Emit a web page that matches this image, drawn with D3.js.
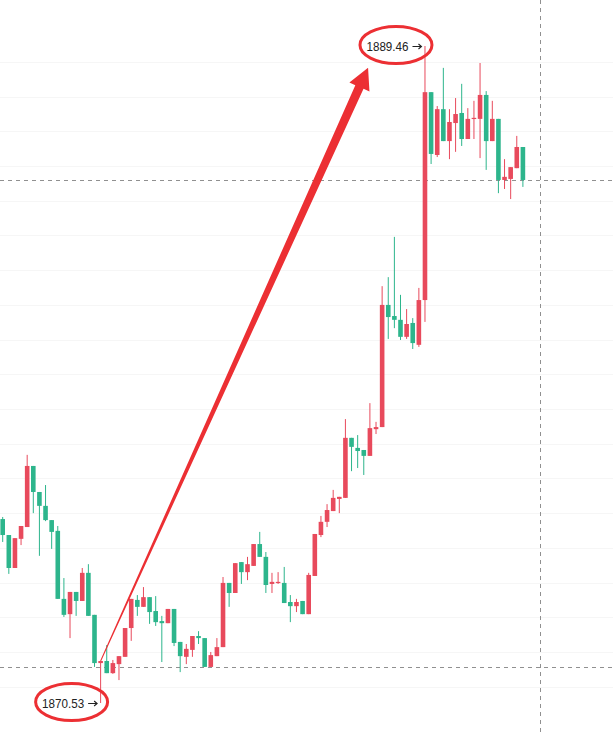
<!DOCTYPE html>
<html>
<head>
<meta charset="utf-8">
<script src="https://cdn.jsdelivr.net/npm/d3@7"></script>
<style>
  body { margin: 0; background: #fff; }
  svg { display: block; }
</style>
</head>
<body>
<svg id="chart" width="613" height="732"></svg>
<script>
// candle data, one entry per bar (oldest first)
let opens = [1875.83,1875.37,1874.42,1875.26,1875.60,1877.36,1876.61,1876.21,1875.80,1875.49,
  1873.53,1873.09,1873.73,1873.47,1874.28,1873.07,1871.68,1871.74,1871.39,1871.65,
  1871.86,1872.69,1873.50,1873.30,1873.58,1873.18,1872.89,1872.83,1873.24,1872.29,
  1871.86,1872.06,1872.46,1872.40,1871.57,1871.88,1872.14,1873.99,1873.70,1874.59,
  1874.30,1874.48,1875.11,1874.74,1873.96,1873.99,1873.99,1873.44,1873.32,1873.47,
  1873.09,1874.19,1875.37,1875.75,1876.06,1876.41,1876.44,1878.17,1877.88,1877.82,
  1877.65,1878.42,1878.48,1882.00,1881.68,1881.57,1881.08,1881.48,1880.85,1882.14,
  1888.13,1886.32,1887.64,1886.72,1887.24,1887.53,1886.78,1887.36,1887.36,1888.05,
  1886.72,1887.36,1885.60,1885.63,1885.94,1886.55];
let highs = [1875.89,1875.37,1875.28,1875.63,1877.68,1877.36,1876.61,1876.81,1875.80,1875.63,
  1874.13,1873.73,1873.73,1874.42,1874.53,1873.07,1871.74,1872.20,1871.77,1871.88,
  1872.69,1873.53,1873.64,1873.87,1873.58,1873.61,1873.04,1873.24,1873.24,1872.29,
  1872.23,1872.46,1872.60,1872.40,1872.00,1872.40,1874.16,1873.99,1874.56,1874.59,
  1874.74,1875.11,1875.46,1874.88,1874.28,1874.30,1874.45,1873.64,1873.53,1873.47,
  1874.28,1875.40,1875.92,1876.26,1876.67,1876.47,1878.71,1878.17,1878.25,1877.82,
  1879.17,1878.63,1882.54,1882.80,1883.96,1882.29,1881.88,1881.62,1882.49,1889.46,
  1888.13,1887.73,1888.83,1887.64,1887.96,1888.37,1887.67,1887.88,1888.97,1888.16,
  1887.88,1887.36,1886.20,1885.97,1886.87,1886.55];
let lows = [1875.17,1874.25,1874.42,1875.08,1875.60,1876.00,1874.77,1875.77,1874.97,1873.53,
  1873.01,1872.40,1873.04,1873.47,1873.04,1871.57,1870.53,1871.39,1871.37,1871.19,
  1871.86,1872.32,1873.04,1873.30,1872.81,1872.75,1871.71,1872.83,1872.17,1871.42,
  1871.65,1871.86,1872.23,1871.57,1871.57,1871.88,1872.14,1873.30,1873.70,1873.96,
  1874.07,1874.48,1874.74,1873.70,1873.70,1873.96,1873.41,1872.86,1873.15,1873.09,
  1873.09,1874.19,1875.31,1875.60,1876.06,1876.00,1876.44,1877.21,1877.30,1877.10,
  1877.65,1878.28,1878.48,1881.02,1881.33,1880.99,1881.02,1880.73,1880.79,1881.51,
  1886.06,1886.26,1886.72,1886.20,1886.41,1886.58,1886.78,1886.78,1886.23,1885.89,
  1886.72,1885.22,1885.34,1885.05,1885.94,1885.40];
let closes = [1875.37,1874.42,1875.28,1875.63,1877.36,1876.61,1876.21,1875.80,1875.46,1873.53,
  1873.07,1873.73,1873.47,1874.28,1873.04,1871.68,1871.74,1871.39,1871.68,1871.88,
  1872.69,1873.53,1873.30,1873.58,1873.15,1872.86,1872.83,1873.24,1872.26,1871.88,
  1872.09,1872.46,1872.40,1871.57,1871.91,1872.14,1873.99,1873.70,1874.56,1874.30,
  1874.53,1875.11,1874.74,1873.93,1874.02,1874.02,1873.41,1873.32,1873.44,1873.09,
  1874.22,1875.40,1875.75,1876.09,1876.44,1876.47,1878.17,1877.91,1877.79,1877.65,
  1878.45,1878.48,1882.00,1881.65,1881.57,1881.08,1881.45,1880.90,1882.14,1888.13,
  1886.35,1887.64,1886.72,1887.27,1887.50,1886.78,1887.36,1887.39,1888.05,1886.72,
  1887.36,1885.60,1885.69,1885.97,1886.55,1885.60];

// horizontal price grid and the two dashed price lines
let gridPrices = [1871,1872,1873,1874,1875,1876,1877,1878,1879,1880,
  1881,1882,1883,1884,1885,1886,1887,1888,1889];
let dashedPrices = [1871.57, 1885.60];
let cursorIndex = 87.8;

// marked extremes: [bar index, price, label]
let lowMark = [16, 1870.53, "1870.53"];
let highMark = [69, 1889.46, "1889.46"];
// red arrow: from bar 16 top to near the high label
let arrowFrom = [16, 1871.74];
let arrowTo = [59.7, 1888.83];

let upColor = "#e84a5c";
let downColor = "#2db58c";
let markRed = "#ec2f33";

let width = 613, height = 732;
let svg = d3.select("#chart");

let data = opens.map((o, i) => ({ i: i, o: o, h: highs[i], l: lows[i], c: closes[i] }));

// Set up the scales
let x = d3.scaleLinear()
  .domain([0, data.length - 1])
  .range([2.7, 522.9]);
let y = d3.scaleLinear()
  .domain([1870.53, 1889.46])
  .range([703, 46]);

// faint grid
svg.append("g")
  .selectAll("line")
  .data(gridPrices)
  .enter()
  .append("line")
  .attr("x1", 0)
  .attr("x2", width)
  .attr("y1", d => Math.round(y(d)) + 0.5)
  .attr("y2", d => Math.round(y(d)) + 0.5)
  .attr("stroke", "#f6f6f6");

// dashed lines
svg.append("g")
  .selectAll("line")
  .data(dashedPrices)
  .enter()
  .append("line")
  .attr("x1", 0)
  .attr("x2", width)
  .attr("y1", d => Math.round(y(d)) + 0.5)
  .attr("y2", d => Math.round(y(d)) + 0.5)
  .attr("stroke", "#909090")
  .attr("stroke-dasharray", "4,4");

svg.append("line")
  .attr("x1", Math.round(x(cursorIndex)) + 0.5)
  .attr("x2", Math.round(x(cursorIndex)) + 0.5)
  .attr("y1", 0)
  .attr("y2", height)
  .attr("stroke", "#909090")
  .attr("stroke-dasharray", "4,4");

// candles
let bodyW = 4.6;
let candles = svg.append("g")
  .selectAll("g")
  .data(data)
  .enter()
  .append("g")
  .attr("fill", d => d.c >= d.o ? upColor : downColor)
  .attr("stroke", d => d.c >= d.o ? upColor : downColor);

candles.append("line")
  .attr("x1", d => x(d.i))
  .attr("x2", d => x(d.i))
  .attr("y1", d => y(d.h))
  .attr("y2", d => y(d.l))
  .attr("stroke-width", 1);

candles.append("rect")
  .attr("x", d => x(d.i) - bodyW / 2)
  .attr("width", bodyW)
  .attr("y", d => y(Math.max(d.o, d.c)))
  .attr("height", d => Math.max(1.2, Math.abs(y(d.o) - y(d.c))))
  .attr("stroke", "none");

// tapered red arrow
let ax0 = x(arrowFrom[0]), ay0 = y(arrowFrom[1]);
let ax1 = x(arrowTo[0]), ay1 = y(arrowTo[1]);
let len = Math.hypot(ax1 - ax0, ay1 - ay0);
let ux = (ax1 - ax0) / len, uy = (ay1 - ay0) / len;
let px = -uy, py = ux;
let headLen = 21, headHalf = 11, tailHalf = 0.5, neckHalf = 4.5;
let bx = ax1 - ux * headLen, by = ay1 - uy * headLen;
let arrowPts = [
  [ax0 + px * tailHalf, ay0 + py * tailHalf],
  [bx + px * neckHalf, by + py * neckHalf],
  [bx + px * headHalf, by + py * headHalf],
  [ax1, ay1],
  [bx - px * headHalf, by - py * headHalf],
  [bx - px * neckHalf, by - py * neckHalf],
  [ax0 - px * tailHalf, ay0 - py * tailHalf]
];
svg.append("path")
  .attr("d", d3.line()(arrowPts) + "Z")
  .attr("fill", markRed);

// price labels with a small arrow, circled in red
function drawMark(mark) {
  let cx = x(mark[0]);
  let cy = y(mark[1]);
  let g = svg.append("g");
  let arrowEnd = cx - 3.5;
  g.append("text")
    .attr("x", arrowEnd - 13)
    .attr("y", cy + 4.8)
    .attr("text-anchor", "end")
    .attr("font-family", "'Liberation Sans', Arial, sans-serif")
    .attr("font-size", 13.5)
    .attr("fill", "#222")
    .attr("textLength", 42)
    .attr("lengthAdjust", "spacingAndGlyphs")
    .text(mark[2]);
  g.append("path")
    .attr("d", "M" + (arrowEnd - 9) + "," + (cy + 0.5) + "H" + arrowEnd +
      "M" + (arrowEnd - 3) + "," + (cy - 2) + "L" + arrowEnd + "," + (cy + 0.5) +
      "L" + (arrowEnd - 3) + "," + (cy + 3))
    .attr("fill", "none")
    .attr("stroke", "#222")
    .attr("stroke-width", 1.1);
  g.append("ellipse")
    .attr("cx", cx - 29)
    .attr("cy", cy - 1)
    .attr("rx", 36)
    .attr("ry", 18.5)
    .attr("fill", "none")
    .attr("stroke", markRed)
    .attr("stroke-width", 3);
}

drawMark(lowMark);
drawMark(highMark);
</script>
</body>
</html>
